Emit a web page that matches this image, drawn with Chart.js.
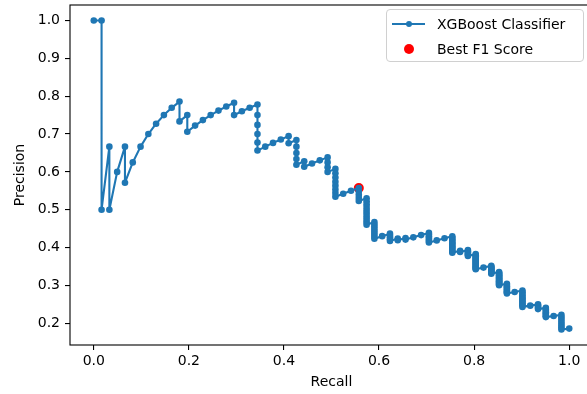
<!DOCTYPE html>
<html>
<head>
<meta charset="utf-8">
<title>Precision-Recall Curve</title>
<script src="https://cdn.jsdelivr.net/npm/chart.js@4.4.0/dist/chart.umd.min.js"></script>
<style>
  html, body { margin: 0; padding: 0; overflow: hidden; background: #fff; }
  #wrap { position: relative; width: 600px; height: 394px; }
  #legend {
    position: absolute; left: 386px; top: 9px; width: 198px; height: 53px;
    box-sizing: border-box; border: 1px solid #d0d0d0; border-radius: 4px;
    background: rgba(255, 255, 255, 0.8);
    font-family: "DejaVu Sans", sans-serif; font-size: 14px; color: #000;
  }
  .row { position: absolute; left: 0; width: 100%; height: 16px; line-height: 16px; white-space: nowrap; }
  .row .txt { position: absolute; left: 50px; top: 0; }
  .row .ln { position: absolute; left: 5px; top: 7px; width: 33px; height: 2px; }
  .row .dot { position: absolute; border-radius: 50%; }
</style>
</head>
<body>
<div id="wrap">
  <canvas id="pr-chart" width="600" height="394"></canvas>
  <div id="legend"></div>
</div>
<script>
// Recall levels (TP / 61) and the precision values reached at each level
const recallLevels = [
  0, 0.0164, 0.0328, 0.0492, 0.0656, 0.0820, 0.0984, 0.1148, 0.1311, 0.1475, 0.1639,
  0.1803, 0.1967, 0.2131, 0.2295, 0.2459, 0.2623, 0.2787, 0.2951, 0.3115, 0.3279,
  0.3443, 0.3607, 0.3770, 0.3934, 0.4098, 0.4262, 0.4426, 0.4590, 0.4754, 0.4918,
  0.5082, 0.5246, 0.5410, 0.5574, 0.5738, 0.5902, 0.6066, 0.6230, 0.6393, 0.6557,
  0.6721, 0.6885, 0.7049, 0.7213, 0.7377, 0.7541, 0.7705, 0.7869, 0.8033, 0.8197,
  0.8361, 0.8525, 0.8689, 0.8852, 0.9016, 0.9180, 0.9344, 0.9508, 0.9672, 0.9836, 1.0
];

const precisionStacks = [
  [1.0],
  [1.0, 0.5],
  [0.6667, 0.5],
  [0.6],
  [0.6667, 0.5714],
  [0.625],
  [0.6667],
  [0.7],
  [0.7273],
  [0.75],
  [0.7692],
  [0.7857, 0.7333],
  [0.75, 0.7059],
  [0.7222],
  [0.7368],
  [0.75],
  [0.7619],
  [0.7727],
  [0.7826, 0.75],
  [0.76],
  [0.7692],
  [0.7778, 0.75, 0.7241, 0.7, 0.6774, 0.6563],
  [0.6667],
  [0.6765],
  [0.6857],
  [0.6944, 0.6757],
  [0.6842, 0.6667, 0.65, 0.6341, 0.619],
  [0.6279, 0.6136],
  [0.6222],
  [0.6304],
  [0.6383, 0.625, 0.6122, 0.6],
  [0.6078, 0.5962, 0.5849, 0.5741, 0.5636, 0.5536, 0.5439, 0.5345],
  [0.5424],
  [0.55],
  [0.5574, 0.5484, 0.5397, 0.5313, 0.5231],
  [0.5303, 0.5224, 0.5147, 0.5072, 0.5, 0.493, 0.4861, 0.4795, 0.473, 0.4667, 0.4605],
  [0.4675, 0.4615, 0.4557, 0.45, 0.4444, 0.439, 0.4337, 0.4286, 0.4235],
  [0.4302],
  [0.4368, 0.4318, 0.427, 0.4222, 0.4176],
  [0.4239, 0.4194],
  [0.4255, 0.4211],
  [0.4271],
  [0.433],
  [0.4388, 0.4343, 0.43, 0.4257, 0.4216, 0.4175, 0.4135],
  [0.419],
  [0.4245],
  [0.4299, 0.4259, 0.422, 0.4182, 0.4144, 0.4107, 0.4071, 0.4035, 0.4, 0.3966, 0.3932, 0.3898, 0.3866],
  [0.3917, 0.3884],
  [0.3934, 0.3902, 0.3871, 0.384, 0.381, 0.378],
  [0.3828, 0.3798, 0.3769, 0.374, 0.3712, 0.3684, 0.3657, 0.363, 0.3603, 0.3577, 0.3551, 0.3525, 0.35, 0.3475, 0.3451, 0.3427],
  [0.3472],
  [0.3517, 0.3493, 0.3469, 0.3446, 0.3423, 0.34, 0.3377, 0.3355, 0.3333, 0.3312],
  [0.3355, 0.3333, 0.3312, 0.3291, 0.327, 0.325, 0.323, 0.321, 0.319, 0.3171, 0.3152, 0.3133, 0.3114, 0.3095, 0.3077, 0.3059, 0.3041, 0.3023, 0.3006],
  [0.3046, 0.3011, 0.2978, 0.2944, 0.2912, 0.288, 0.2849, 0.2819, 0.2789],
  [0.2827],
  [0.2865, 0.2821, 0.2778, 0.2736, 0.2696, 0.2657, 0.2619, 0.2582, 0.2546, 0.2511, 0.2477, 0.2434],
  [0.2467],
  [0.25, 0.2468, 0.2436, 0.2405, 0.2375],
  [0.2407, 0.2367, 0.2329, 0.2292, 0.2257, 0.2222, 0.2189, 0.2164],
  [0.2193],
  [0.2222, 0.2158, 0.2098, 0.2041, 0.1987, 0.1935, 0.1887, 0.1835],
  [0.186]
];

// Threshold with the best F1 score
const bestRecall = 0.5574;
const bestPrecision = 0.5574;

const xTicks = [0.0, 0.2, 0.4, 0.6, 0.8, 1.0];
const yTicks = [0.2, 0.3, 0.4, 0.5, 0.6, 0.7, 0.8, 0.9, 1.0];

// Flatten the stacks into (recall, precision) points along the curve
const curvePoints = [];
recallLevels.forEach((r, i) => {
  precisionStacks[i].forEach(p => curvePoints.push({ x: r, y: p }));
});

Chart.defaults.font.family = "'DejaVu Sans', sans-serif";
Chart.defaults.font.size = 14;
Chart.defaults.color = "#000";

// Axes frame drawn above the curve, like matplotlib spines
const framePlugin = {
  id: "frame",
  afterDatasetsDraw(chart) {
    const { ctx, chartArea: a } = chart;
    ctx.save();
    ctx.strokeStyle = "#000";
    ctx.lineWidth = 1.1;
    ctx.strokeRect(a.left, a.top, a.right - a.left, a.bottom - a.top);
    ctx.restore();
  }
};

const ctx = document.getElementById("pr-chart").getContext("2d");

const chart = new Chart(ctx, {
  type: "scatter",
  data: {
    datasets: [
      {
        label: "XGBoost Classifier",
        data: curvePoints,
        showLine: true,
        borderColor: "#1f77b4",
        borderWidth: 2.1,
        borderJoinStyle: "round",
        borderCapStyle: "round",
        pointRadius: 3.3,
        pointBorderWidth: 0,
        pointBackgroundColor: "#1f77b4",
        tension: 0,
      },
      {
        label: "Best F1 Score",
        data: [{ x: bestRecall, y: bestPrecision }],
        showLine: false,
        pointRadius: 5,
        pointBorderWidth: 0,
        pointBackgroundColor: "#ff0000",
      },
    ],
  },
  options: {
    responsive: false,
    animation: false,
    events: [],
    layout: { padding: { top: 4, right: 7, left: 0, bottom: 0 } },
    plugins: {
      legend: { display: false },
      tooltip: { enabled: false },
    },
    scales: {
      x: {
        type: "linear",
        min: -0.05,
        max: 1.05,
        afterBuildTicks: (scale) => { scale.ticks = xTicks.map(v => ({ value: v })); },
        afterFit: (scale) => { scale.height = 49; scale.paddingLeft = 0; scale.paddingRight = 0; },
        ticks: { padding: 3, callback: (v) => Number(v).toFixed(1) },
        grid: { display: true, drawOnChartArea: false, drawTicks: true, tickLength: 5, tickColor: "#000", lineWidth: 1.1 },
        border: { display: false },
        title: { display: true, text: "Recall", padding: { top: 0, bottom: 3 } },
      },
      y: {
        type: "linear",
        min: 0.1427,
        max: 1.0408,
        afterBuildTicks: (scale) => { scale.ticks = yTicks.map(v => ({ value: v })); },
        afterFit: (scale) => { scale.width = 70; scale.paddingTop = 0; scale.paddingBottom = 0; },
        ticks: { padding: 5, callback: (v) => Number(v).toFixed(1) },
        grid: { display: true, drawOnChartArea: false, drawTicks: true, tickLength: 5, tickColor: "#000", lineWidth: 1.1 },
        border: { display: false },
        title: { display: true, text: "Precision", padding: { top: 11.5, bottom: 0 } },
      },
    },
  },
  plugins: [framePlugin],
});

// Legend box in the upper right corner of the plot
const legendBox = document.getElementById("legend");
chart.data.datasets.forEach((ds, i) => {
  const row = document.createElement("div");
  row.className = "row";
  row.style.top = (6 + i * 24.5) + "px";
  if (ds.showLine) {
    const ln = document.createElement("div");
    ln.className = "ln";
    ln.style.background = ds.borderColor;
    row.appendChild(ln);
    const dot = document.createElement("div");
    dot.className = "dot";
    dot.style.cssText = "left:18.5px;top:5px;width:6px;height:6px;background:" + ds.pointBackgroundColor;
    row.appendChild(dot);
  } else {
    const dot = document.createElement("div");
    dot.className = "dot";
    dot.style.cssText = "left:16.5px;top:3px;width:10px;height:10px;background:" + ds.pointBackgroundColor;
    row.appendChild(dot);
  }
  const txt = document.createElement("span");
  txt.className = "txt";
  txt.textContent = ds.label;
  row.appendChild(txt);
  legendBox.appendChild(row);
});
</script>
</body>
</html>
